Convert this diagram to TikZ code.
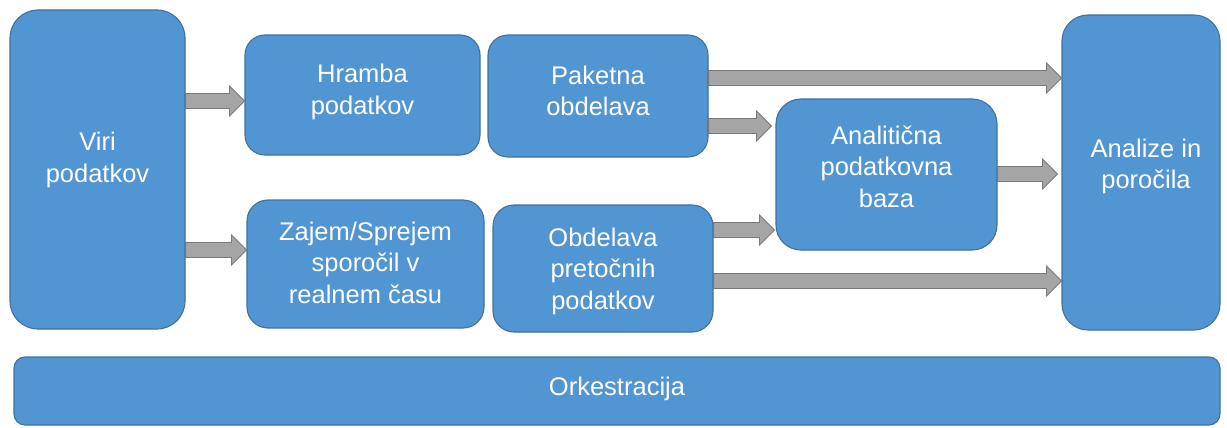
\documentclass[tikz,border=0pt]{standalone}
\usepackage{fontspec}
\setmainfont{Liberation Sans}
\usetikzlibrary{calc}
\definecolor{boxblue}{RGB}{82,149,211}
\definecolor{boxedge}{RGB}{65,113,156}
\definecolor{arrfill}{RGB}{165,165,165}
\definecolor{arredge}{RGB}{120,120,120}
\tikzset{
  box/.style={rectangle, draw=boxedge, fill=boxblue, line width=1.1pt, inner sep=0pt},
  txt/.style={text=white, align=center, font=\fontsize{25.5}{31.5}\selectfont, inner sep=0pt},
  barrowstyle/.style={draw=arredge, fill=arrfill, line width=0.9pt, line join=miter}
}
\newcommand\barrow[3]{%
  \draw[barrowstyle] let \p1=(#1), \p2=(#2), \p3=(0,#3) in
    (\x1,\y3+7.5pt) -- (\x2-15pt,\y3+7.5pt) -- (\x2-15pt,\y3+15pt) -- (\x2,\y3)
    -- (\x2-15pt,\y3-15pt) -- (\x2-15pt,\y3-7.5pt) -- (\x1,\y3-7.5pt) -- cycle;}
\begin{document}
\begin{tikzpicture}[x=1pt,y=-1pt]
\useasboundingbox (0,0) rectangle (1227,428);
% boxes
\node[box, rounded corners=28pt, minimum width=175pt, minimum height=319pt] (viri) at (97.5,169.5) {};
\node[box, rounded corners=20pt, minimum width=235pt, minimum height=120pt] (hramba) at (362.5,95) {};
\node[box, rounded corners=20pt, minimum width=220pt, minimum height=122pt] (paketna) at (598,96) {};
\node[box, rounded corners=21pt, minimum width=237pt, minimum height=128pt] (zajem) at (365.5,264) {};
\node[box, rounded corners=21pt, minimum width=220pt, minimum height=127pt] (obdelava) at (603,268.5) {};
\node[box, rounded corners=25pt, minimum width=221pt, minimum height=151pt] (analiticna) at (886.5,174.5) {};
\node[box, rounded corners=26pt, minimum width=158pt, minimum height=315pt] (analize) at (1141,172.5) {};
\node[box, rounded corners=11pt, minimum width=1206pt, minimum height=68pt] (orkestracija) at (617,391) {};
% texts
\node[txt] (tviri) at (viri.center |- 0,160) {Viri\\podatkov};
\node[txt] (thramba) at (hramba.center |- 0,92) {Hramba\\podatkov};
\node[txt] (tpaketna) at (paketna.center |- 0,91) {Paketna\\obdelava};
\node[txt] (tzajem) at (zajem.center |- 0,262.5) {Zajem/Sprejem\\sporočil v\\realnem času};
\node[txt] (tobdelava) at (obdelava.center |- 0,271) {Obdelava\\pretočnih\\podatkov};
\node[txt] (tanaliticna) at (analiticna.center |- 0,166.5) {Analitična\\podatkovna\\baza};
\node[txt] (tanalize) at ([xshift=5pt]analize.center |- 0,166.5) {Analize in\\poročila};
\node[txt] (torkestracija) at (orkestracija.center |- 0,389) {Orkestracija};
% block arrows
\barrow{viri.east}{hramba.west}{101}
\barrow{viri.east}{zajem.west}{250}
\barrow{paketna.east}{analize.west}{78}
\barrow{paketna.east}{$(analiticna.west)+(-4,0)$}{126}
\barrow{analiticna.east}{$(analize.west)+(-4,0)$}{174}
\barrow{obdelava.east}{$(analiticna.west)+(-1,0)$}{230}
\barrow{obdelava.east}{analize.west}{281}
\end{tikzpicture}
\end{document}
